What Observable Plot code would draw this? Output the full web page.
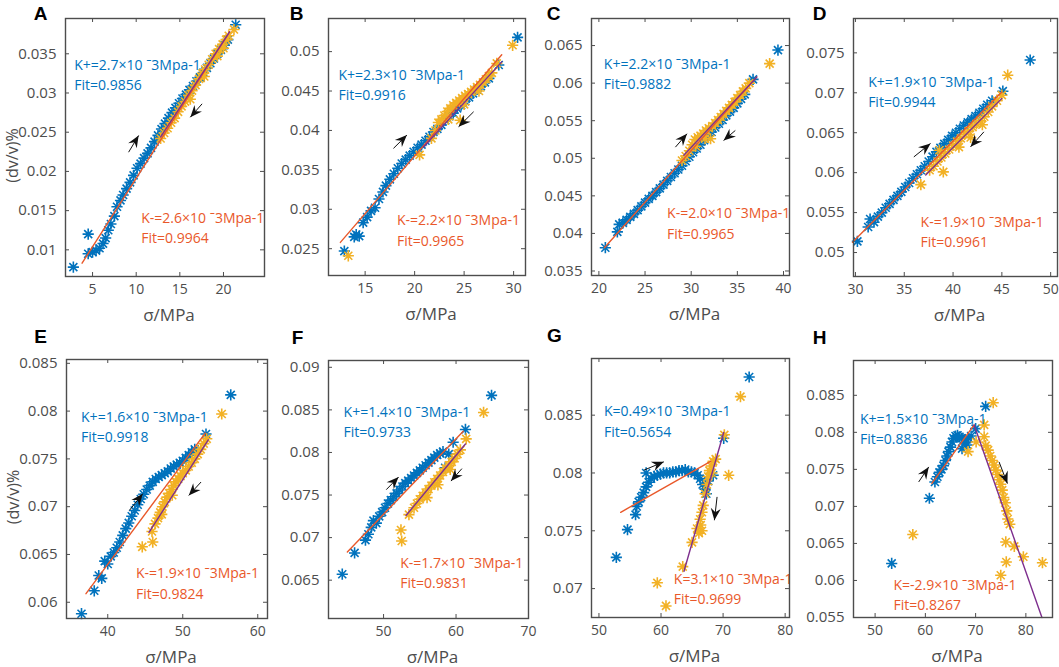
<!DOCTYPE html>
<html><head><meta charset="utf-8">
<script src="https://cdn.jsdelivr.net/npm/d3@7"></script>
<script src="https://cdn.jsdelivr.net/npm/@observablehq/plot@0.6"></script>
<style>
body{margin:0;background:#fff;}
#fig{position:relative;width:1059px;height:667px;overflow:hidden;background:#fff;}
#fig svg{position:absolute;overflow:visible;}
</style></head><body><div id="fig"></div>
<script>
// ---------- labels ----------
const panelLetters = ["A","B","C","D","E","F","G","H"];
const xLabel = "σ/MPa";
const yLabel = "(dv/v)%";
const kLoadLabels = ["K+=2.7×10 ˉ3Mpa-1","K+=2.3×10 ˉ3Mpa-1","K+=2.2×10 ˉ3Mpa-1","K+=1.9×10 ˉ3Mpa-1","K+=1.6×10 ˉ3Mpa-1","K+=1.4×10 ˉ3Mpa-1","K=0.49×10 ˉ3Mpa-1","K+=1.5×10 ˉ3Mpa-1"];
const fitLoadLabels = ["Fit=0.9856","Fit=0.9916","Fit=0.9882","Fit=0.9944","Fit=0.9918","Fit=0.9733","Fit=0.5654","Fit=0.8836"];
const kUnloadLabels = ["K-=2.6×10 ˉ3Mpa-1","K-=2.2×10 ˉ3Mpa-1","K-=2.0×10 ˉ3Mpa-1","K-=1.9×10 ˉ3Mpa-1","K-=1.9×10 ˉ3Mpa-1","K-=1.7×10 ˉ3Mpa-1","K=3.1×10 ˉ3Mpa-1","K=-2.9×10 ˉ3Mpa-1"];
const fitUnloadLabels = ["Fit=0.9964","Fit=0.9965","Fit=0.9965","Fit=0.9961","Fit=0.9824","Fit=0.9831","Fit=0.9699","Fit=0.8267"];

// ---------- scales / ticks ----------
const xDomains = [[1.9,24.7],[11.3,31.2],[19.2,40.65],[29.8,50.7],[34.5,61.3],[42.4,70],[48.8,80.7],[45.7,85.3]];
const yDomains = [[0.0066,0.0395],[0.0216,0.0542],[0.0344,0.0686],[0.047,0.0793],[0.0583,0.0854],[0.0605,0.0908],[0.0675,0.0899],[0.055,0.0897]];
const xTicks = [[5,10,15,20],[15,20,25,30],[20,25,30,35,40],[30,35,40,45,50],[40,50,60],[50,60,70],[50,60,70,80],[50,60,70,80]];
const yTicks = [[0.01,0.015,0.02,0.025,0.03,0.035],[0.025,0.03,0.035,0.04,0.045,0.05],[0.035,0.04,0.045,0.05,0.055,0.06,0.065],[0.05,0.055,0.06,0.065,0.07,0.075],[0.06,0.065,0.07,0.075,0.08,0.085],[0.065,0.07,0.075,0.08,0.085,0.09],[0.07,0.075,0.08,0.085],[0.055,0.06,0.065,0.07,0.075,0.08,0.085]];

// ---------- loading (blue) points [stress, dv/v] ----------
const loadA = [[2.8,0.0078],[4.5,0.0120],[4.5,0.0095],[5.0,0.0097],[5.4,0.0099],[5.8,0.0102],[6.2,0.0108],[6.5,0.0115],[6.8,0.0125],[7.1,0.0133],[7.5,0.0143],[7.8,0.0155],[8.2,0.0163],[8.5,0.0170],[8.9,0.0178],[9.3,0.0186],[9.7,0.0195],[10.1,0.0204],[10.5,0.0210],[10.9,0.0217],[11.3,0.0223],[11.7,0.0230],[12.1,0.0238],[12.5,0.0246],[12.9,0.0254],[13.3,0.0261],[13.7,0.0268],[14.1,0.0275],[14.5,0.0281],[14.9,0.0287],[15.3,0.0293],[15.7,0.0298],[16.1,0.0304],[16.5,0.0309],[16.9,0.0315],[17.3,0.0320],[17.7,0.0326],[18.1,0.0332],[18.5,0.0338],[18.9,0.0344],[19.3,0.0350],[19.7,0.0355],[20.1,0.0361],[20.5,0.0368],[21.4,0.0387]];
const loadB = [[12.9,0.0247],[13.9,0.0265],[14.1,0.0268],[14.4,0.0266],[14.8,0.0283],[15.2,0.0290],[15.6,0.0298],[16.0,0.0302],[16.4,0.0313],[16.8,0.0322],[17.1,0.0330],[17.5,0.0338],[17.9,0.0345],[18.3,0.0352],[18.7,0.0358],[19.1,0.0363],[19.5,0.0368],[19.9,0.0373],[20.3,0.0378],[20.7,0.0382],[21.1,0.0387],[21.5,0.0392],[21.9,0.0398],[22.3,0.0402],[22.7,0.0407],[23.1,0.0413],[23.5,0.0418],[23.9,0.0422],[24.3,0.0428],[24.7,0.0432],[25.1,0.0437],[25.5,0.0442],[25.9,0.0447],[26.3,0.0452],[26.7,0.0456],[27.1,0.0461],[27.5,0.0466],[28.5,0.0483],[30.4,0.0518]];
const loadC = [[20.7,0.0381],[22.0,0.0402],[22.2,0.0412],[22.6,0.0414],[23.0,0.0418],[23.4,0.0422],[23.8,0.0426],[24.2,0.0431],[24.6,0.0436],[25.0,0.0441],[25.4,0.0446],[25.8,0.0450],[26.2,0.0455],[26.6,0.0460],[27.0,0.0465],[27.4,0.0470],[27.8,0.0475],[28.2,0.0480],[28.6,0.0485],[29.0,0.0490],[29.4,0.0496],[29.8,0.0502],[30.2,0.0508],[30.6,0.0513],[31.0,0.0518],[31.4,0.0524],[31.8,0.0530],[32.2,0.0535],[32.6,0.0541],[33.0,0.0546],[33.4,0.0551],[33.8,0.0557],[34.2,0.0562],[34.6,0.0567],[35.0,0.0573],[35.4,0.0579],[35.8,0.0585],[36.7,0.0605],[39.4,0.0644]];
const loadD = [[30.2,0.0514],[31.3,0.0532],[31.5,0.0542],[31.9,0.0538],[32.3,0.0545],[32.7,0.0550],[33.1,0.0556],[33.5,0.0561],[33.9,0.0566],[34.3,0.0571],[34.7,0.0576],[35.1,0.0582],[35.5,0.0587],[35.9,0.0593],[36.3,0.0598],[36.7,0.0603],[37.1,0.0608],[37.5,0.0614],[37.9,0.0620],[38.3,0.0626],[38.7,0.0631],[39.1,0.0636],[39.5,0.0641],[39.9,0.0646],[40.3,0.0650],[40.7,0.0655],[41.1,0.0659],[41.5,0.0663],[41.9,0.0667],[42.3,0.0671],[42.7,0.0675],[43.1,0.0680],[43.5,0.0685],[44.0,0.0690],[45.1,0.0702],[47.9,0.0741]];
const loadE = [[36.5,0.0588],[38.2,0.0612],[38.8,0.0628],[39.2,0.0625],[39.6,0.0643],[40.0,0.0640],[40.4,0.0648],[40.8,0.0652],[41.2,0.0657],[41.6,0.0663],[42.0,0.0670],[42.4,0.0677],[42.8,0.0683],[43.2,0.0690],[43.6,0.0696],[44.0,0.0702],[44.4,0.0708],[44.8,0.0713],[45.2,0.0718],[45.6,0.0722],[46.0,0.0726],[46.4,0.0729],[46.8,0.0731],[47.2,0.0733],[47.6,0.0735],[48.0,0.0737],[48.4,0.0740],[48.8,0.0742],[49.2,0.0744],[49.6,0.0746],[50.0,0.0748],[50.4,0.0751],[50.8,0.0754],[51.2,0.0757],[51.6,0.0760],[53.1,0.0776],[56.4,0.0817]];
const loadF = [[44.3,0.0657],[46.0,0.0682],[47.5,0.0697],[47.9,0.0704],[48.3,0.0712],[48.6,0.0720],[49.0,0.0717],[49.4,0.0725],[49.8,0.0730],[50.2,0.0735],[50.6,0.0740],[51.0,0.0744],[51.4,0.0748],[51.8,0.0752],[52.2,0.0756],[52.6,0.0760],[53.0,0.0764],[53.4,0.0767],[53.8,0.0770],[54.2,0.0773],[54.6,0.0776],[55.0,0.0779],[55.4,0.0782],[55.8,0.0785],[56.2,0.0788],[56.6,0.0791],[57.0,0.0794],[57.4,0.0797],[57.8,0.0799],[58.2,0.0801],[58.5,0.0782],[59.0,0.0798],[59.6,0.0812],[61.3,0.0827],[64.9,0.0867]];
const loadG = [[52.8,0.0727],[54.6,0.0751],[55.9,0.0764],[56.1,0.0771],[56.4,0.0775],[56.8,0.0779],[57.2,0.0783],[57.6,0.0788],[57.6,0.0800],[58.0,0.0792],[58.4,0.0795],[58.9,0.0797],[59.4,0.0798],[59.9,0.0799],[60.4,0.0800],[60.9,0.0800],[61.4,0.0800],[61.9,0.0801],[62.4,0.0801],[62.9,0.0802],[63.4,0.0802],[63.9,0.0803],[64.4,0.0801],[64.9,0.0801],[65.4,0.0800],[65.9,0.0798],[66.3,0.0795],[66.7,0.0790],[67.1,0.0786],[67.3,0.0782],[67.6,0.0793],[68.4,0.0798],[70.1,0.0830],[74.2,0.0883]];
const loadH = [[53.3,0.0623],[60.8,0.0711],[61.9,0.0733],[62.4,0.0740],[62.8,0.0746],[63.2,0.0750],[63.6,0.0755],[64.0,0.0762],[64.3,0.0768],[64.6,0.0774],[65.0,0.0780],[65.3,0.0787],[65.6,0.0792],[66.0,0.0795],[66.4,0.0796],[66.8,0.0794],[67.2,0.0792],[67.3,0.0778],[67.6,0.0790],[68.0,0.0786],[68.3,0.0783],[68.6,0.0792],[69.1,0.0795],[70.0,0.0805],[72.0,0.0835]];

// ---------- unloading (orange) points ----------
const unloadA = [[12.8,0.0242],[13.2,0.0249],[13.6,0.0255],[14.0,0.0262],[14.4,0.0268],[14.8,0.0276],[15.2,0.0283],[15.6,0.0289],[16.0,0.0297],[16.2,0.0292],[16.4,0.0303],[16.8,0.0310],[17.2,0.0318],[17.6,0.0325],[17.8,0.0321],[17.9,0.0330],[18.3,0.0336],[18.7,0.0343],[19.1,0.0350],[19.3,0.0347],[19.5,0.0356],[19.9,0.0362],[20.0,0.0357],[20.3,0.0368],[20.6,0.0373],[21.2,0.0381]];
const unloadB = [[13.3,0.0241],[20.5,0.0369],[21.7,0.0390],[22.1,0.0400],[22.4,0.0410],[22.7,0.0414],[23.0,0.0419],[23.3,0.0424],[23.4,0.0414],[23.6,0.0428],[23.9,0.0432],[24.2,0.0435],[24.5,0.0438],[24.6,0.0413],[24.8,0.0441],[25.0,0.0433],[25.1,0.0444],[25.4,0.0446],[25.7,0.0449],[26.0,0.0452],[26.3,0.0455],[26.5,0.0450],[26.6,0.0458],[26.9,0.0461],[27.2,0.0465],[27.5,0.0469],[27.8,0.0473],[28.3,0.0485],[29.9,0.0508]];
const unloadC = [[29.0,0.0497],[29.4,0.0503],[29.8,0.0510],[30.1,0.0518],[30.4,0.0525],[30.5,0.0516],[30.7,0.0528],[31.0,0.0530],[31.3,0.0533],[31.5,0.0526],[31.6,0.0537],[31.9,0.0540],[32.1,0.0526],[32.3,0.0543],[32.6,0.0547],[32.9,0.0551],[33.2,0.0555],[33.5,0.0559],[33.8,0.0563],[34.1,0.0567],[34.4,0.0571],[34.7,0.0575],[35.0,0.0580],[35.3,0.0584],[35.6,0.0589],[35.9,0.0593],[36.3,0.0600],[38.5,0.0626]];
const unloadD = [[36.7,0.0585],[37.6,0.0603],[38.0,0.0608],[38.4,0.0614],[38.6,0.0628],[38.8,0.0619],[39.0,0.0601],[39.2,0.0624],[39.6,0.0629],[40.0,0.0634],[40.4,0.0639],[40.6,0.0632],[40.8,0.0643],[41.2,0.0648],[41.6,0.0652],[41.8,0.0644],[42.0,0.0657],[42.4,0.0661],[42.8,0.0665],[43.0,0.0660],[43.2,0.0670],[43.6,0.0676],[44.0,0.0683],[44.5,0.0690],[45.0,0.0697],[45.6,0.0722]];
const unloadE = [[44.6,0.0658],[46.0,0.0663],[45.9,0.0674],[46.3,0.0682],[46.7,0.0688],[47.0,0.0694],[47.2,0.0692],[47.3,0.0700],[47.6,0.0705],[47.9,0.0710],[48.2,0.0714],[48.5,0.0718],[48.6,0.0712],[48.8,0.0722],[49.1,0.0726],[49.4,0.0729],[49.7,0.0732],[50.0,0.0735],[50.4,0.0738],[50.8,0.0742],[51.2,0.0746],[51.6,0.0750],[52.0,0.0755],[52.4,0.0760],[52.8,0.0766],[53.2,0.0771],[55.2,0.0797]];
const unloadF = [[52.4,0.0709],[52.5,0.0696],[53.5,0.0727],[54.2,0.0735],[54.6,0.0740],[55.0,0.0745],[55.4,0.0749],[55.8,0.0753],[56.0,0.0747],[56.2,0.0757],[56.6,0.0761],[57.0,0.0765],[57.4,0.0769],[57.5,0.0762],[57.8,0.0773],[58.2,0.0777],[58.6,0.0781],[59.0,0.0785],[59.2,0.0780],[59.4,0.0789],[59.8,0.0793],[60.2,0.0798],[60.6,0.0803],[61.4,0.0816],[63.8,0.0847]];
const unloadG = [[59.4,0.0705],[60.8,0.0685],[63.5,0.0719],[65.0,0.0740],[65.8,0.0752],[66.1,0.0748],[66.4,0.0755],[66.6,0.0750],[66.3,0.0760],[66.6,0.0766],[66.8,0.0772],[67.1,0.0782],[67.4,0.0790],[67.6,0.0797],[67.8,0.0802],[68.1,0.0806],[68.2,0.0800],[68.4,0.0810],[68.8,0.0812],[70.2,0.0833],[70.9,0.0798],[72.8,0.0866]];
const unloadH = [[57.5,0.0662],[68.5,0.0774],[70.1,0.0787],[71.7,0.0810],[71.7,0.0794],[73.5,0.0840],[72.0,0.0782],[72.5,0.0776],[72.9,0.0768],[73.3,0.0762],[73.7,0.0756],[74.0,0.0749],[74.4,0.0743],[74.7,0.0736],[75.0,0.0730],[75.3,0.0722],[75.6,0.0712],[75.9,0.0705],[76.2,0.0694],[76.4,0.0683],[76.8,0.0676],[76.0,0.0652],[77.7,0.0646],[76.1,0.0625],[79.5,0.0632],[75.0,0.0607],[83.3,0.0624]];

// ---------- fitted lines (end points) ----------
const fitLoadA = [[3.8,0.0083],[20.7,0.0378]];
const fitLoadB = [[12.5,0.0258],[28.8,0.0496]];
const fitLoadC = [[20.6,0.0381],[37.1,0.0608]];
const fitLoadD = [[29.7,0.0513],[45.0,0.0701]];
const fitLoadE = [[37.1,0.0609],[53.0,0.0777]];
const fitLoadF = [[45.0,0.0683],[61.0,0.0825]];
const fitLoadG = [[53.5,0.0766],[68.0,0.0810]];
const fitLoadH = [[61.3,0.0731],[69.7,0.0810]];
const fitUnloadA = [[12.8,0.0244],[20.7,0.0378]];
const fitUnloadB = [[20.9,0.0379],[28.8,0.0487]];
const fitUnloadC = [[29.2,0.0504],[37.1,0.0608]];
const fitUnloadD = [[37.2,0.0597],[45.0,0.0693]];
const fitUnloadE = [[45.5,0.0673],[53.4,0.0770]];
const fitUnloadF = [[53.1,0.0726],[61.3,0.0810]];
const fitUnloadG = [[63.7,0.0715],[70.1,0.0835]];
const fitUnloadH = [[69.7,0.0810],[83.2,0.0550]];

// ---------- direction arrows [x1,y1,x2,y2] ----------
const arrowsA = [[9.13,0.02245,10.28,0.02458],[17.55,0.02862,16.2,0.02691]];
const arrowsB = [[17.86,0.03772,19.22,0.03941],[25.96,0.04237,24.44,0.04047]];
const arrowsC = [[28.29,0.05148,29.55,0.05326],[34.78,0.0537,33.51,0.05237]];
const arrowsD = [[35.98,0.06197,37.69,0.06365],[43.16,0.06511,41.79,0.06323]];
const arrowsE = [[42.88,0.06961,44.67,0.07136],[52.44,0.07258,50.8,0.07118]];
const arrowsF = [[50.37,0.07563,52.07,0.07711],[60.81,0.0781,59.3,0.07664]];
const arrowsG = [[57.23,0.08024,60.45,0.08096],[69.03,0.07793,68.6,0.07591]];
const arrowsH = [[58.67,0.0733,60.67,0.07533],[74.67,0.0760,76.33,0.07308]];

// ---------- annotation anchors (left x, middle y) ----------
const loadLabelPos = [[2.9,0.03245],[12.3,0.0460],[20.54,0.06145],[31.3,0.07033],[36.44,0.07848],[44.48,0.08375],[50.8,0.08457],[47.0,0.08061]];
const unloadLabelPos = [[10.58,0.0130],[18.21,0.0275],[27.39,0.04151],[36.67,0.05279],[43.77,0.06213],[52.3,0.06598],[62.06,0.07007],[53.66,0.05828]];

// ---------- assemble ----------
const loadSeries = [loadA,loadB,loadC,loadD,loadE,loadF,loadG,loadH];
const unloadSeries = [unloadA,unloadB,unloadC,unloadD,unloadE,unloadF,unloadG,unloadH];
const fitLoadSeries = [fitLoadA,fitLoadB,fitLoadC,fitLoadD,fitLoadE,fitLoadF,fitLoadG,fitLoadH];
const fitUnloadSeries = [fitUnloadA,fitUnloadB,fitUnloadC,fitUnloadD,fitUnloadE,fitUnloadF,fitUnloadG,fitUnloadH];
const arrowSeries = [arrowsA,arrowsB,arrowsC,arrowsD,arrowsE,arrowsF,arrowsG,arrowsH];

// layout: frame boxes [left, right, top, bottom] in page pixels and letter offsets
const frames = [[65,264,18,276],[328,525,18,275],[591,789,18,275],[853,1057,18,276],[66,267,359,618],[328,528,360,618],[591,789,358,617],[853,1052,360,617]];
const letterDx = [-25,-32,-38,-34,-26,-31,-37,-34];

const C_LOAD = "#0072BD", C_UNLOAD = "#F2B125", C_RED = "#E9582A", C_PURPLE = "#7E2F8E", C_AXIS = "#4d4d4d";
const FONT = '"Open Sans", sans-serif';

const asterisk = {draw(ctx){
  const a = 5.6, b = 4.0;
  ctx.moveTo(-a,0); ctx.lineTo(a,0);
  ctx.moveTo(0,-a); ctx.lineTo(0,a);
  ctx.moveTo(-b,-b); ctx.lineTo(b,b);
  ctx.moveTo(-b,b); ctx.lineTo(b,-b);
}};
const arrowHead = {draw(ctx){
  ctx.moveTo(0,0); ctx.lineTo(-5,12); ctx.lineTo(0,8); ctx.lineTo(5,12); ctx.closePath();
}};

const fig = document.getElementById("fig");
frames.forEach((f, i) => {
  const [L, R, T, B] = f;
  const fw = R - L, fh = B - T;
  const ml = 65, mr = 2, mt = 18, mb = 50;
  const W = fw + ml + mr, H = fh + mt + mb;
  const sx = d3.scaleLinear(xDomains[i], [ml, ml + fw]);
  const sy = d3.scaleLinear(yDomains[i], [mt + fh, mt]);
  const arrows = arrowSeries[i].map(a => ({
    x1: a[0], y1: a[1], x2: a[2], y2: a[3],
    angle: Math.atan2(sx(a[2]) - sx(a[0]), -(sy(a[3]) - sy(a[1]))) * 180 / Math.PI
  }));
  const row = i < 4 ? 0 : 1;
  const marks = [
    Plot.dot(loadSeries[i], {x: d => d[0], y: d => d[1], symbol: asterisk, stroke: C_LOAD, fill: "none", strokeWidth: 1.6}),
    Plot.dot(unloadSeries[i], {x: d => d[0], y: d => d[1], symbol: asterisk, stroke: C_UNLOAD, fill: "none", strokeWidth: 1.6}),
    Plot.line(fitLoadSeries[i], {x: d => d[0], y: d => d[1], stroke: C_RED, strokeWidth: 1.4}),
    Plot.line(fitUnloadSeries[i], {x: d => d[0], y: d => d[1], stroke: C_PURPLE, strokeWidth: 1.4}),
    Plot.link(arrows, {x1: "x1", y1: "y1", x2: "x2", y2: "y2", stroke: "#111", strokeWidth: 1}),
    Plot.dot(arrows, {x: "x2", y: "y2", symbol: arrowHead, fill: "#111", stroke: "none", rotate: "angle"}),
    Plot.text([{x: loadLabelPos[i][0], y: loadLabelPos[i][1], t: kLoadLabels[i] + "\n" + fitLoadLabels[i]}],
      {x: "x", y: "y", text: "t", textAnchor: "start", lineAnchor: "middle", lineHeight: 1.45, fontSize: 14, fill: C_LOAD, fontFamily: FONT}),
    Plot.text([{x: unloadLabelPos[i][0], y: unloadLabelPos[i][1], t: kUnloadLabels[i] + "\n" + fitUnloadLabels[i]}],
      {x: "x", y: "y", text: "t", textAnchor: "start", lineAnchor: "middle", lineHeight: 1.45, fontSize: 14, fill: C_RED, fontFamily: FONT}),
    Plot.tickX(xTicks[i], {x: d => d, insetTop: fh - 4, stroke: C_AXIS}),
    Plot.tickX(xTicks[i], {x: d => d, insetBottom: fh - 4, stroke: C_AXIS}),
    Plot.tickY(yTicks[i], {y: d => d, insetRight: fw - 4, stroke: C_AXIS}),
    Plot.tickY(yTicks[i], {y: d => d, insetLeft: fw - 4, stroke: C_AXIS}),
    Plot.axisX({ticks: xTicks[i], tickSize: 0, tickPadding: 8, fontSize: 14, label: null, tickFormat: d => String(d)}),
    Plot.axisY({ticks: yTicks[i], tickSize: 0, tickPadding: 9, fontSize: 15, label: null, tickFormat: d => String(d)}),
    Plot.frame({stroke: C_AXIS, strokeWidth: 1.4}),
    Plot.text([xLabel], {frameAnchor: "bottom", dy: 39, dx: 4, fontSize: 17, lineAnchor: "middle", fill: C_AXIS, fontFamily: FONT}),
    Plot.text([panelLetters[i]], {frameAnchor: "top-left", dx: letterDx[i], dy: row === 0 ? -5 : -23, textAnchor: "middle", lineAnchor: "middle", fontSize: 19, fontWeight: "bold", fill: "#000", fontFamily: "Liberation Sans, Arial, sans-serif"})
  ];
  if (i % 4 === 0) {
    marks.push(Plot.text([yLabel], {frameAnchor: "left", dx: -53, dy: 8, rotate: -90, fontSize: 16, lineAnchor: "middle", textAnchor: "middle", fill: C_AXIS, fontFamily: FONT}));
  }
  const svg = Plot.plot({
    width: W, height: H,
    marginLeft: ml, marginRight: mr, marginTop: mt, marginBottom: mb,
    x: {domain: xDomains[i]},
    y: {domain: yDomains[i]},
    style: {fontFamily: FONT, color: C_AXIS, background: "transparent", overflow: "visible"},
    marks
  });
  svg.style.left = (L - ml) + "px";
  svg.style.top = (T - mt) + "px";
  fig.appendChild(svg);
});
</script></body></html>
